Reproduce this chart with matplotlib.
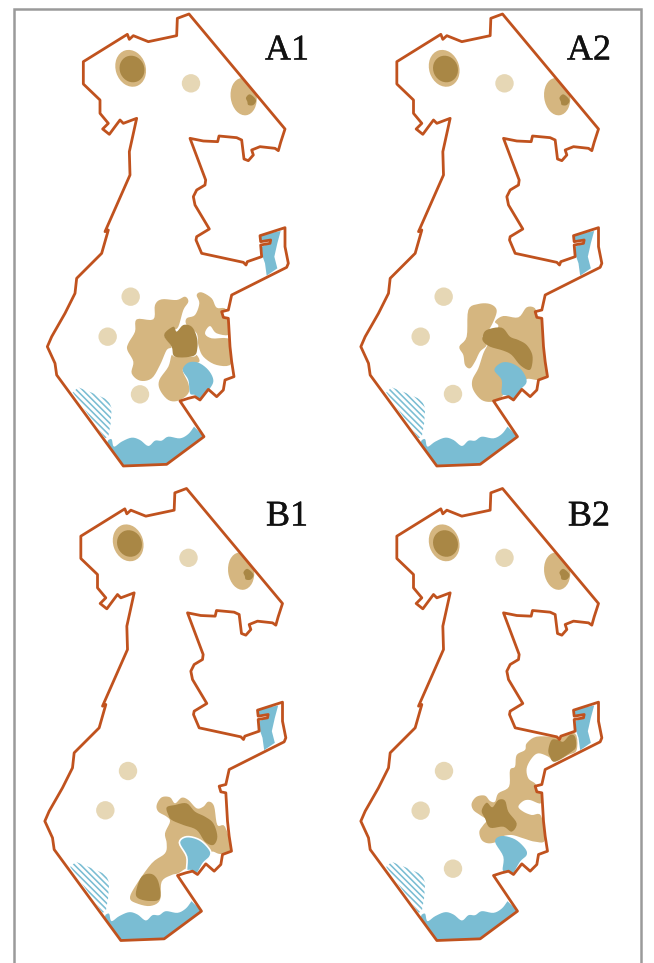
import matplotlib
matplotlib.use("Agg")
import matplotlib.pyplot as plt
import matplotlib.patheffects as pe
from matplotlib.patches import Polygon, Ellipse, Rectangle, Circle

LIGHT, DARK, PALE, BLUE, LINE = "#D5B680", "#A98745", "#E6D7B5", "#7ABDD3", "#C0521E"

panel_names = ["A1", "A2", "B1", "B2"]
panel_offsets = [(0, 0), (313.5, 0), (-2.5, 474.5), (313.5, 474.5)]
label_positions = [(287, 51), (589, 51), (287, 517), (589, 517)]
crop_origins = [(40, 230), (355, 230), (40, 700), (355, 700)]

outline_top = [(447,27),(735,372),(722,412),(715,437),(705,430),(660,425),(635,435),(640,450),(625,467),(612,462),
    (605,405),(590,398),(537,393),(533,410),(490,408),(450,400),(497,525),(495,540),(470,555),(460,575),(465,600),(508,672),(470,695)]
outline_bottom = [(468,30),(485,70),(610,97),(618,105),(622,95),(665,80),(662,45),(690,40),(692,30),(662,35),(660,17),
    (735,-7),(735,50),(745,100),(740,112),(575,195),(565,240),(545,245),(550,262),(565,265),(570,350),(575,395),(582,440),
    (555,450),(550,480),(530,500),(505,478),(480,510),(465,500),(445,505),(420,513),(492,620),(380,703),(250,708),
    (50,435),(45,400),(22,350),(35,320),(75,250),(105,190),(110,145),(185,70),(205,0)]
outline_left = [(195,680),(270,510),(268,440),(290,340),(250,355),(240,345),(225,365),(208,388),(188,372),(205,355),
    (180,325),(180,285),(130,237),(130,170),(262,88),(268,103),(280,92),(325,110),(410,92),(412,40)]

sea_shore = [(205,630),(215,628),(222,650),(245,635),(275,623),(300,630),(325,648),(345,632),(365,632),(385,620),(420,625),
    (445,612),(462,590)]
sea_coast = [(495,622),(380,706),(250,711),(200,640)]
hatched = [(98,487),(115,472),(160,490),(205,510),(215,535),(212,580),(205,620),(195,625)]
strip = [(660,15),(722,3),(712,40),(703,80),(712,115),(680,137),(675,100),(668,80),(665,50),(690,40),(692,28),(662,33)]

north_core = [(618,278),(630,268),(648,285),(640,300),(625,300),(622,290)]
north_circle = (453, 235)

circles = [
    [(272,200),(203,320),(300,493)],
    [(266,200),(197,320),(294,492)],
    [(264,213),(196,331)],
    [(267,213),(197,332),(294,506)],
]
light_blobs = [
    [[(265,340),(285,305),(290,268),(340,268),(345,225),(365,208),(410,210),(435,200),(445,215),(430,240),(415,290),(400,300),(373,315),(395,350),(380,360),(360,405),(335,445),(300,452),(275,430),(280,395),(262,360)],
     [(395,375),(405,380),(460,380),(470,375),(478,395),(450,405),(428,420),(445,460),(445,490),(415,512),(385,510),(360,480),(358,450),(385,410)],
     [(440,265),(465,255),(478,220),(470,195),(485,187),(515,205),(530,233),(560,240),(572,310),(530,310),(510,288),(495,310),(515,325),(572,330),(575,400),(530,405),(490,380),(475,345),(470,310),(440,285)]],
    [[(313,350),(335,320),(340,240),(370,222),(405,222),(425,240),(415,275),(395,310),(383,320),(395,345),(375,365),(360,395),(345,415),(330,405),(325,375)],
     [(430,290),(420,275),(445,258),(490,262),(515,232),(540,235),(548,265),(562,275),(565,350),(578,440),(550,450),(515,447),(500,470),(450,490),(440,500),(412,515),(380,510),(355,480),(352,450),(370,415),(385,370),(398,345),(405,330)]],
    [[(350,315),(365,292),(390,292),(405,310),(425,293),(445,300),(470,325),(490,320),(505,305),(522,318),(532,375),(555,380),(575,455),(540,462),(515,455),(500,480),(470,505),(440,505),(415,520),(395,525),(365,545),(360,600),(330,618),(290,610),(270,595),(285,560),(335,490),(375,460),(380,430),(375,400),(390,365),(380,350),(355,335)]],
    [[(515,130),(545,110),(610,110),(660,100),(665,150),(640,165),(600,185),(580,170),(550,160),(530,175),(515,205),(520,235),(540,250),(548,265),(560,275),(558,310),(525,300),(505,303),(490,320),(505,335),(530,345),(558,347),(570,420),(540,425),(505,415),(470,405),(440,410),(425,425),(400,430),(380,420),(373,395),(385,375),(395,360),(375,345),(355,330),(350,310),(365,290),(390,287),(405,303),(420,305),(430,280),(462,260),(465,210),(480,200),(485,165),(510,150)]],
]
dark_blobs = [
    [[(372,315),(400,290),(410,305),(430,285),(455,290),(470,320),(472,355),(460,378),(405,380),(395,350)]],
    [[(383,320),(395,300),(440,293),(465,320),(490,330),(515,345),(532,375),(530,410),(520,420),(495,405),(470,375),(445,362),(405,350),(385,335)]],
    [[(380,322),(405,315),(440,310),(465,335),(495,350),(520,370),(532,410),(520,435),(495,425),(470,390),(430,375),(395,360),(385,345)],
     [(305,530),(335,522),(355,545),(360,595),(330,603),(295,595),(272+16,575)]],
    [[(580,150),(590,120),(610,120),(625,125),(645,105),(660,110),(663,140),(650,155),(600,185),(585,170)],
     [(380,332),(395,308),(412,322),(430,300),(450,302),(460,335),(485,370),(470,395),(445,380),(405,383),(390,355)]],
]
lakes = [
    [(428,420),(445,398),(475,398),(505,420),(520,450),(510,475),(480,510),(465,495),(450,490),(445,450)],
    [(418,420),(440,398),(470,400),(500,420),(515,455),(495,480),(470,512),(455,497),(440,490),(440,450)],
    [(418,428),(440,410),(480,420),(510,450),(510,470),(490,490),(468,525),(450,512),(440,510),(440,470)],
    [(420,425),(440,408),(480,418),(510,445),(515,465),(495,485),(470,525),(455,513),(443,510),(445,470)],
]
lake_edges = ["none", "none", "white", "none"]


def smooth(points, closed=True, steps=5):
    """Catmull-Rom curve through the read points."""
    n = len(points)
    out = []
    last = n if closed else n - 1
    for i in range(last):
        if closed:
            p0, p1, p2, p3 = points[i-1], points[i], points[(i+1) % n], points[(i+2) % n]
        else:
            p0, p1, p2, p3 = points[max(i-1, 0)], points[i], points[i+1], points[min(i+2, n-1)]
        for s in range(steps):
            t = s / steps
            out.append(tuple(0.5*(2*p1[d] + (p2[d]-p0[d])*t + (2*p0[d]-5*p1[d]+4*p2[d]-p3[d])*t*t
                                  + (3*p1[d]-p0[d]-3*p2[d]+p3[d])*t*t*t) for d in (0, 1)))
    if not closed:
        out.append(points[-1])
    return out


fig = plt.figure(figsize=(6.54, 9.63), dpi=100)
ax = fig.add_axes([0, 0, 1, 1])
ax.set_xlim(0, 654)
ax.set_ylim(963, 0)
ax.axis("off")
ax.add_patch(Rectangle((14, 9.5), 626.5, 970, fc="white", ec="#9A9A9A", lw=1.8))

for k, name in enumerate(panel_names):
    ox, oy = panel_offsets[k]
    cx, cy = crop_origins[k]

    def base(p):
        return (40 + ox + p[0]/3, 5 + oy + p[1]/3)

    def lower(p):
        return (40 + ox + p[0]/3, 230 + oy + p[1]/3)

    def local(p):
        return (cx + p[0]/3, cy + p[1]/3)

    border = [base(p) for p in outline_top] + [lower(p) for p in outline_bottom] + [base(p) for p in outline_left]
    clip = Polygon(border, closed=True, fc="none", ec="none")
    ax.add_patch(clip)

    def add_clipped(patch):
        ax.add_patch(patch)
        patch.set_clip_path(clip)

    def blob(pts, color, z, edge="none", lw=0):
        add_clipped(Polygon(pts, closed=True, fc=color, ec=edge, lw=lw, zorder=z, joinstyle="round"))

    # northern sites
    ax.add_patch(Ellipse(base((272, 190)), 30, 37.5, angle=-18, fc=LIGHT, ec="none", zorder=2))
    ax.add_patch(Ellipse(base((276, 192)), 24.5, 27, angle=-25, fc=DARK, ec="none", zorder=3))
    add_clipped(Ellipse(base((611, 275)), 26, 37.5, angle=-8, fc=LIGHT, ec="none", zorder=2))
    blob([base(p) for p in smooth(north_core)], DARK, 3)
    ax.add_patch(Circle(base(north_circle), 9.2, fc=PALE, ec="none", zorder=2))

    for c in circles[k]:
        ax.add_patch(Circle(local(c), 9.2, fc=PALE, ec="none", zorder=2))
    for b in light_blobs[k]:
        blob([local(p) for p in smooth(b)], LIGHT, 2)
    for b in dark_blobs[k]:
        blob([local(p) for p in smooth(b)], DARK, 3)
    blob([local(p) for p in smooth(lakes[k])], BLUE, 4, edge=lake_edges[k], lw=1.2)

    blob([lower(p) for p in smooth(sea_shore, closed=False)] + [lower(p) for p in sea_coast], BLUE, 2)
    blob([lower(p) for p in strip], BLUE, 2)

    # diagonal stripes of the hatched coastal area
    hatch_area = Polygon([lower(p) for p in hatched], closed=True, fc="none", ec="none")
    ax.add_patch(hatch_area)
    x0 = lower((98, 487))[0]
    y0 = lower((98, 487))[1]
    for j in range(-10, 14):
        line, = ax.plot([x0 + 6.2*j - 20, x0 + 6.2*j + 60], [y0 - 20, y0 + 60],
                        color=BLUE, lw=1.15, zorder=2, solid_capstyle="butt")
        line.set_clip_path(hatch_area)

    ax.add_patch(Polygon(border, closed=True, fc="none", ec=LINE, lw=2.0, joinstyle="round", zorder=5))
    ax.text(*label_positions[k], name, fontsize=26, family="Liberation Serif", color="#111111",
            ha="center", va="center", zorder=6,
            path_effects=[pe.withStroke(linewidth=0.3, foreground="#111111")])

fig.savefig("out.png", dpi=100)
